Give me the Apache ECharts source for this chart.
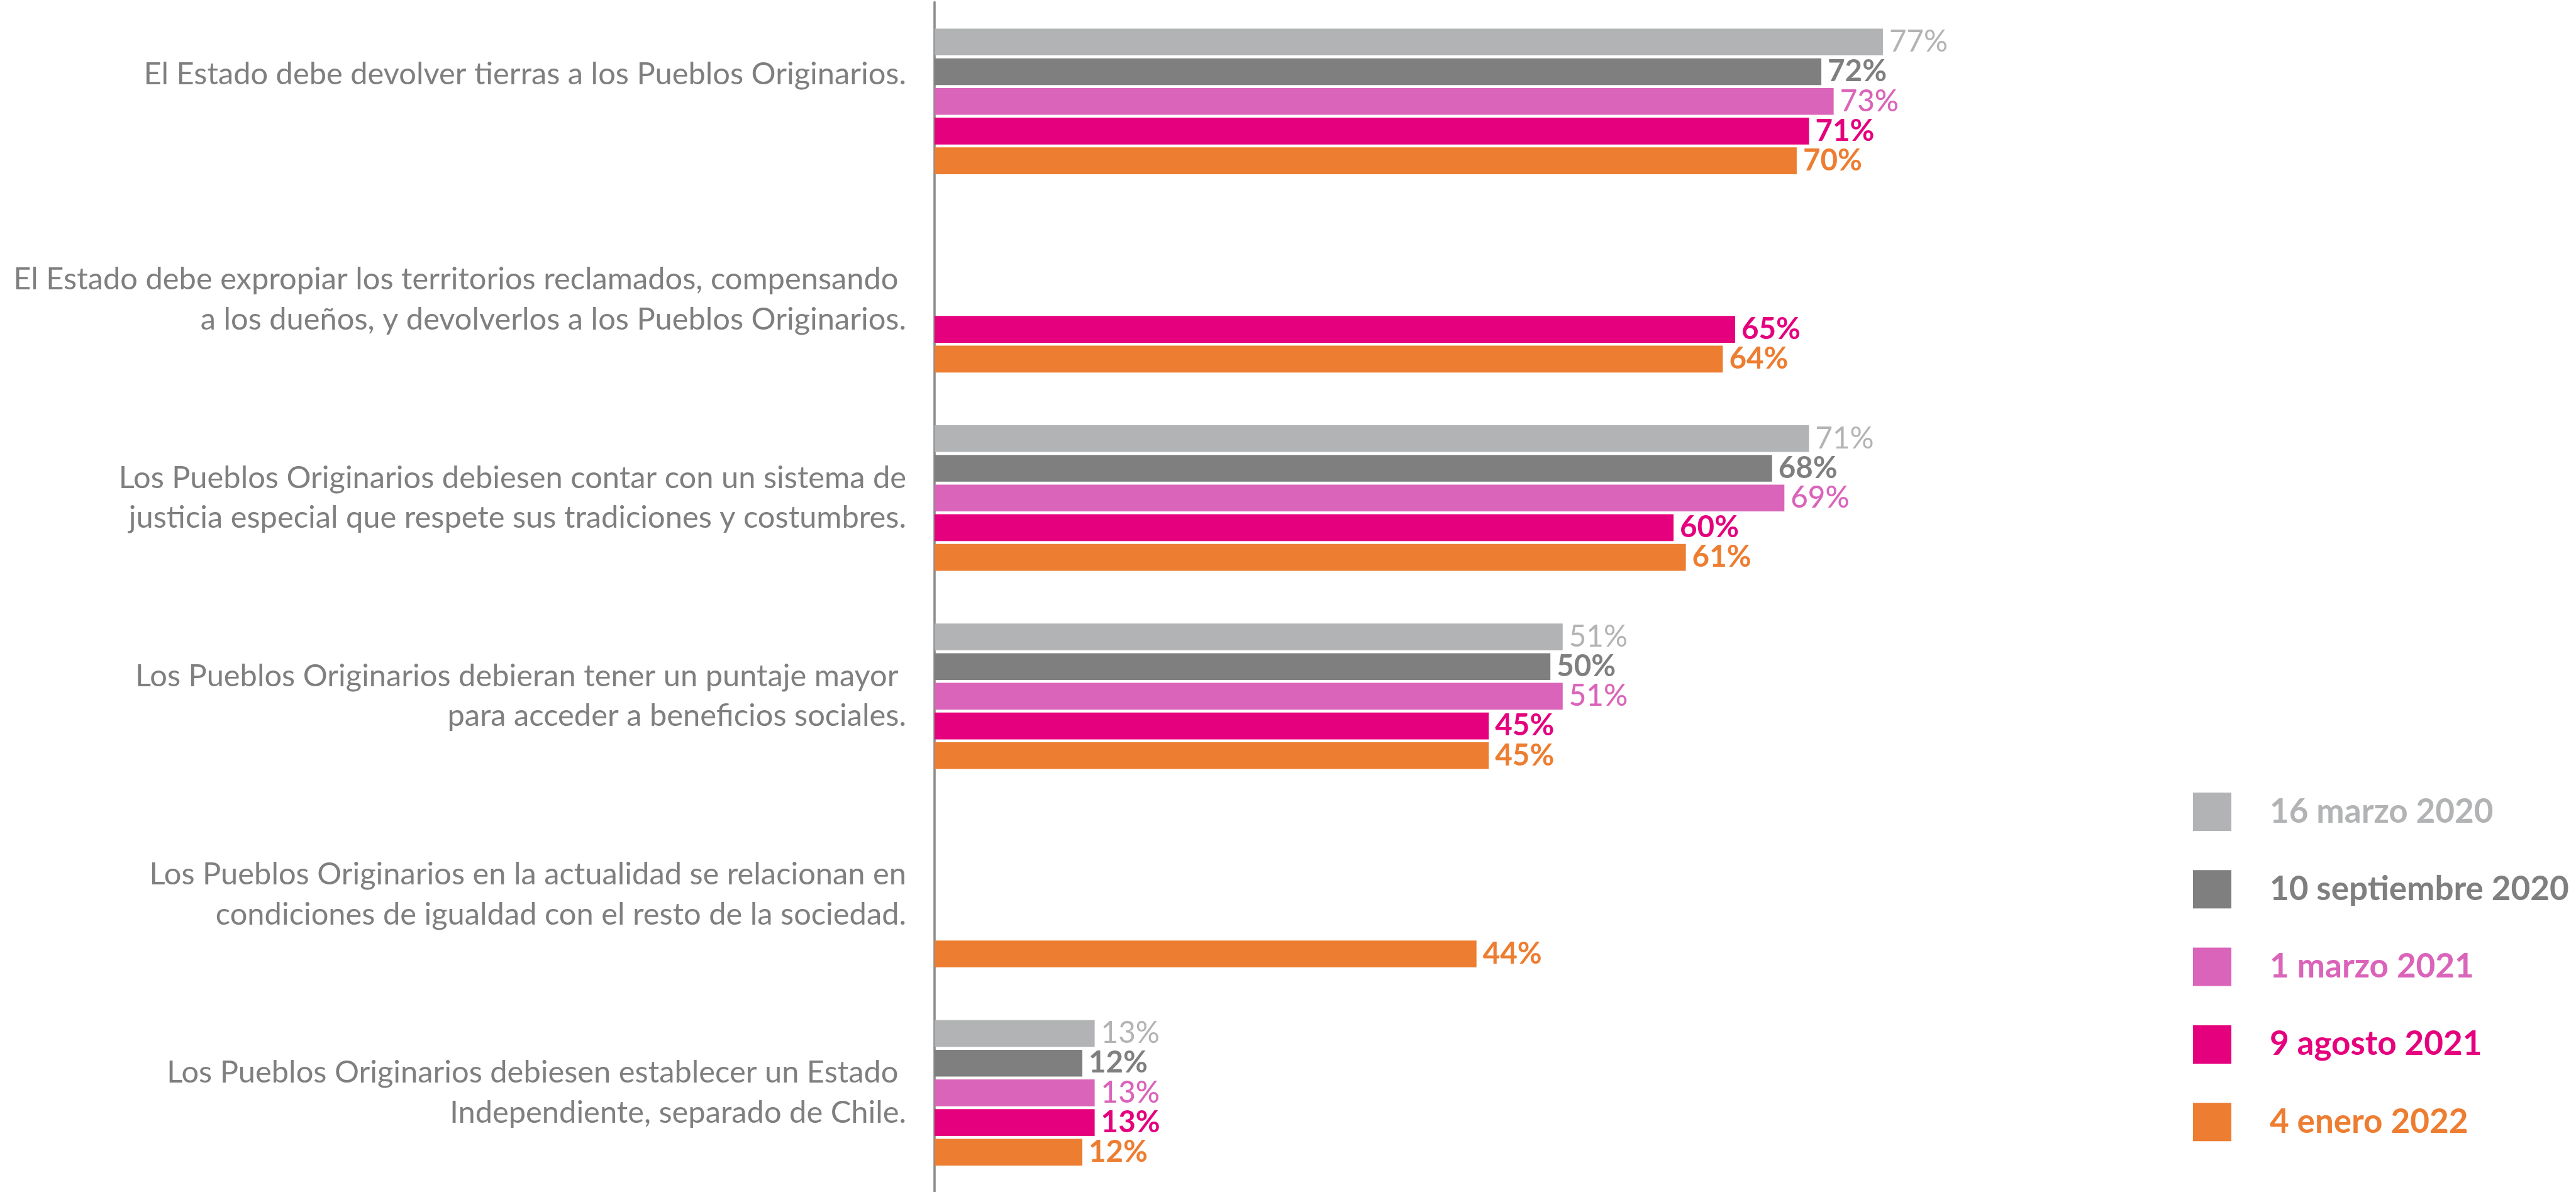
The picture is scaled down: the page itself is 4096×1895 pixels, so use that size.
<!DOCTYPE html>
<html>
<head>
<meta charset="utf-8">
<script src="https://cdn.jsdelivr.net/npm/echarts@6/dist/echarts.min.js"></script>
<style>
  html, body { margin: 0; padding: 0; background: #fff; }
  #chart { width: 4096px; height: 1895px; }
</style>
</head>
<body>
<div id="chart"></div>
<script>
// preguntas (de arriba hacia abajo)
const categories = [
  "El Estado debe devolver tierras a los Pueblos Originarios.",
  "El Estado debe expropiar los territorios reclamados, compensando \na los dueños, y devolverlos a los Pueblos Originarios.",
  "Los Pueblos Originarios debiesen contar con un sistema de\njusticia especial que respete sus tradiciones y costumbres.",
  "Los Pueblos Originarios debieran tener un puntaje mayor \npara acceder a beneficios sociales.",
  "Los Pueblos Originarios en la actualidad se relacionan en\ncondiciones de igualdad con el resto de la sociedad.",
  "Los Pueblos Originarios debiesen establecer un Estado \nIndependiente, separado de Chile."
];

const seriesNames = ["16 marzo 2020", "10 septiembre 2020", "1 marzo 2021", "9 agosto 2021", "4 enero 2022"];
const colors = ["#B2B3B4", "#7F7F7F", "#DA64B9", "#E5007D", "#ED7D31"];
const labelWeights = ["normal", "bold", "500", "bold", "bold"];

const marzo2020 = [77, null, 71, 51, null, 13];
const septiembre2020 = [72, null, 68, 50, null, 12];
const marzo2021 = [73, null, 69, 51, null, 13];
const agosto2021 = [71, 65, 60, 45, null, 13];
const enero2022 = [70, 64, 61, 45, 44, 12];

const values = [marzo2020, septiembre2020, marzo2021, agosto2021, enero2022];

const chart = echarts.init(document.getElementById("chart"));

const labelFont = { color: "#7F7F7F", fontFamily: "Lato", fontSize: 48.8, lineHeight: 63.5 };

chart.setOption({
  animation: false,
  backgroundColor: "#fff",
  grid: {
    left: 1486,
    top: 3.6,
    width: 1958.4,
    height: 1917.3
  },
  legend: {
    orient: "vertical",
    left: 3482,
    top: 1255,
    icon: "rect",
    itemWidth: 61,
    itemHeight: 61,
    itemGap: 62.3,
    selectedMode: false,
    data: seriesNames.map((n, i) => ({
      name: n,
      textStyle: { color: colors[i] }
    })),
    textStyle: {
      fontFamily: "Lato",
      fontWeight: "bold",
      fontSize: 53,
      lineHeight: 61,
      padding: [0, 0, 0, 56]
    }
  },
  xAxis: {
    type: "value",
    min: 0,
    max: 100,
    show: false
  },
  yAxis: {
    type: "category",
    inverse: true,
    data: categories,
    axisLine: { show: true, lineStyle: { color: "#8C8C8C", width: 3.6 } },
    axisTick: { show: false },
    splitLine: { show: false },
    axisLabel: Object.assign({
      margin: 45,
      align: "right",
      formatter: function (v) {
        // la primera pregunta va más arriba, como en el original
        if (v === categories[0]) return "{t|" + v + "}\n{gap| }";
        return v;
      },
      rich: {
        t: Object.assign({ align: "right" }, labelFont),
        gap: { fontSize: 10, lineHeight: 86 }
      }
    }, labelFont)
  },
  series: values.map((d, i) => ({
    name: seriesNames[i],
    type: "bar",
    data: d,
    barWidth: 42.6,
    barGap: "10.8%",
    itemStyle: { color: colors[i] },
    label: {
      show: true,
      position: "right",
      distance: 10,
      formatter: "{c}%",
      color: colors[i],
      fontFamily: "Lato",
      fontSize: 47.5,
      fontWeight: labelWeights[i]
    }
  }))
});
</script>
</body>
</html>
